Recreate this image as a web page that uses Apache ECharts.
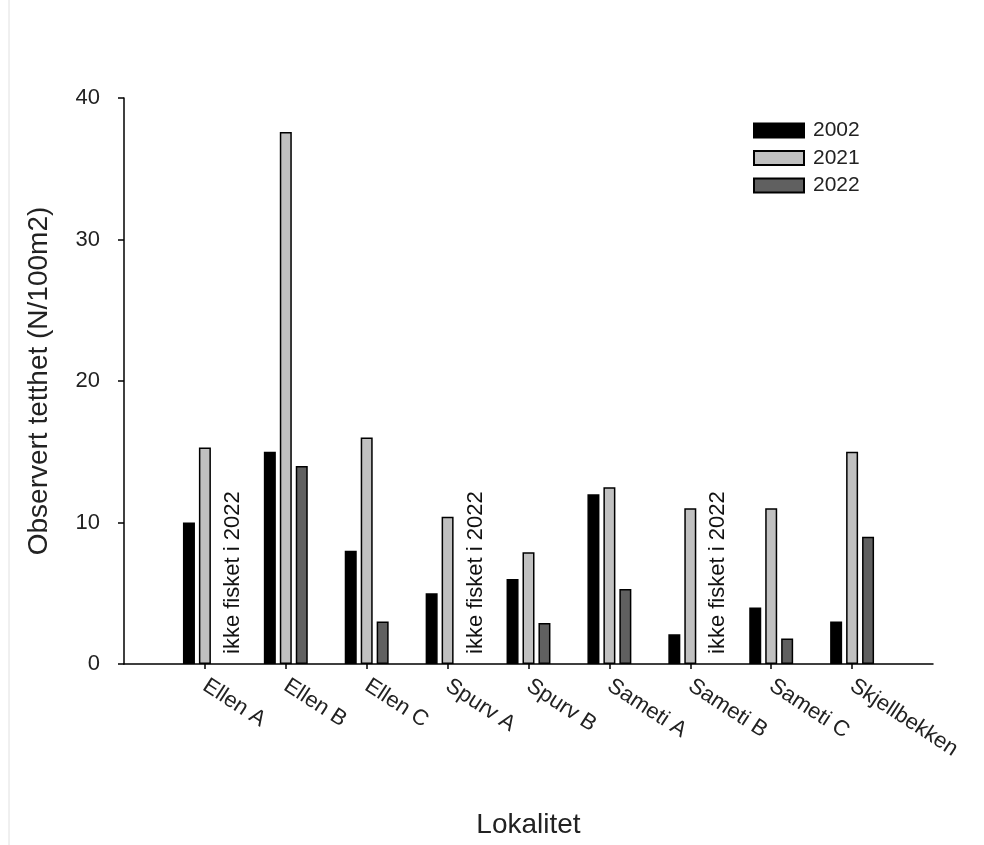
<!DOCTYPE html>
<html>
<head>
<meta charset="utf-8">
<script src="https://cdn.jsdelivr.net/npm/echarts@6/dist/echarts.min.js"></script>
<style>html,body{margin:0;padding:0;background:#fff;}#c{width:984px;height:845px;}</style>
</head>
<body>
<div id="c"></div>
<script>
const categories = ['Ellen A', 'Ellen B', 'Ellen C', 'Spurv A', 'Spurv B', 'Sameti A', 'Sameti B', 'Sameti C', 'Skjellbekken'];
const seriesNames = ['2002', '2021', '2022'];
const values2002 = [10, 15, 8, 5, 6, 12, 2.1, 4, 3];
const values2021 = [15.3, 37.6, 16, 10.4, 7.9, 12.5, 11, 11, 15];
const values2022 = [null, 14, 3, null, 2.9, 5.3, null, 1.8, 9];
const notFishedCats = ['Ellen A', 'Spurv A', 'Sameti B'];
const notFishedText = 'ikke fisket i 2022';
const yTicks = [0, 10, 20, 30, 40];

const FONT = '"Liberation Sans", Arial, sans-serif';
// padded categories: empty slot at each end
const cats = [''].concat(categories, ['']);
function pad(arr) { return [null].concat(arr, [null]); }

const colors = ['#000000', '#c0c0c0', '#606060'];
const valueSets = [values2002, values2021, values2022];

const chart = echarts.init(document.getElementById('c'), null, { renderer: 'canvas' });
const option = {
  animation: false,
  backgroundColor: '#fff',
  textStyle: { fontFamily: FONT },
  grid: { left: 124, right: 51, top: 98, bottom: 181, containLabel: false },
  legend: {
    orient: 'vertical', left: 753, top: 120, padding: 0,
    icon: 'rect',
    itemWidth: 50, itemHeight: 14, itemGap: 6.5,
    textStyle: { fontSize: 21, color: '#222', fontFamily: FONT, padding: [0, 0, 0, 4] },
    data: seriesNames
  },
  xAxis: {
    type: 'category', data: cats, boundaryGap: false,
    name: 'Lokalitet', nameLocation: 'middle', nameGap: 147,
    nameTextStyle: { fontSize: 28, color: '#222', fontFamily: FONT },
    axisLine: { lineStyle: { color: '#000', width: 1.5 } },
    axisTick: { show: true, length: 5, lineStyle: { color: '#000', width: 1.5 },
      interval: function (i) { return i > 0 && i < cats.length - 1; } },
    axisLabel: { interval: 0, rotate: -33, fontSize: 22, color: '#222', margin: 20, fontFamily: FONT },
    splitLine: { show: false }
  },
  yAxis: {
    type: 'value', min: yTicks[0], max: yTicks[yTicks.length - 1], interval: 10,
    name: 'Observert tetthet (N/100m2)', nameLocation: 'middle', nameGap: 71,
    nameTextStyle: { fontSize: 28, color: '#222', fontFamily: FONT },
    axisLine: { show: true, lineStyle: { color: '#000', width: 1.5 } },
    axisTick: { show: true, length: 6, lineStyle: { color: '#000', width: 1.5 } },
    axisLabel: { fontSize: 22, color: '#222', margin: 24, fontFamily: FONT },
    splitLine: { show: false }
  },
  series: seriesNames.map((n, i) => ({
    name: n, type: 'bar', data: pad(valueSets[i]),
    barWidth: 12, barGap: '33%',
    itemStyle: { color: colors[i], borderColor: '#000', borderWidth: 1.5 }
  }))
};
chart.setOption(option);

// annotations and left border line
const graphics = [{
  type: 'line', shape: { x1: 9, y1: 0, x2: 9, y2: 845 },
  style: { stroke: '#e0e0e0', lineWidth: 1 }, silent: true
}];
notFishedCats.forEach(c => {
  const idx = cats.indexOf(c);
  const p = chart.convertToPixel({ xAxisIndex: 0, yAxisIndex: 0 }, [idx, 0]);
  graphics.push({
    type: 'text', x: p[0] + 28, y: p[1] - 10, rotation: Math.PI / 2,
    style: { text: notFishedText, font: '22px ' + FONT, fill: '#111', align: 'left', verticalAlign: 'middle' }
  });
});
chart.setOption({ graphic: graphics });
</script>
</body>
</html>
